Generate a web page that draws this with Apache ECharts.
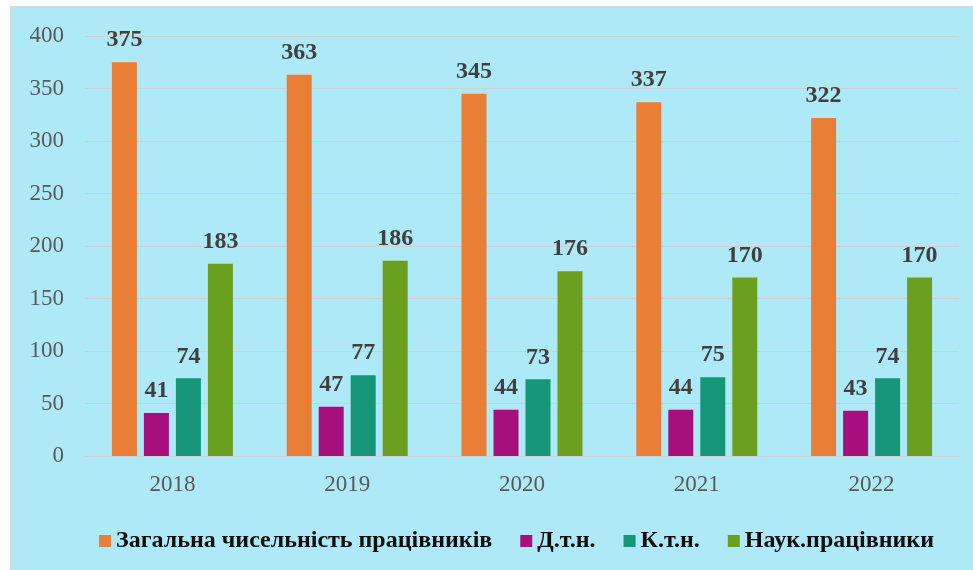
<!DOCTYPE html>
<html>
<head>
<meta charset="utf-8">
<script src="https://cdn.jsdelivr.net/npm/echarts@6/dist/echarts.min.js"></script>
<style>
  html, body { margin: 0; padding: 0; background: #fff; }
  #frame {
    position: absolute; left: 10px; top: 6px; right: 0; bottom: 0;
    border-left: 2px solid #d9d9d9; border-top: 2px solid #d9d9d9;
    background: #aee9f7;
  }
  #chart { position: absolute; left: 0; top: 0; width: 961px; height: 562px; }
</style>
</head>
<body>
<div id="frame"><div id="chart"></div></div>
<script>
// роки
const years = ['2018', '2019', '2020', '2021', '2022']
// ряди
const seriesNames = ['Загальна чисельність працівників', 'Д.т.н.', 'К.т.н.', 'Наук.працівники']
const totalStaff = [375, 363, 345, 337, 322]
const doctors = [41, 47, 44, 44, 43]
const candidates = [74, 77, 73, 75, 74]
const researchers = [183, 186, 176, 170, 170]
const colors = ['#e97e37', '#a5107e', '#159679', '#6b9f20']

const chart = echarts.init(document.getElementById('chart'))

const makeSeries = (name, data, color) => ({
  name: name,
  type: 'bar',
  data: data,
  barWidth: 25,
  barGap: '28%',
  itemStyle: { color: color },
  label: {
    show: true,
    position: 'top',
    distance: 10,
    color: '#404040',
    fontFamily: 'Liberation Serif',
    fontWeight: 'bold',
    fontSize: 24
  }
})

const option = {
  animation: false,
  backgroundColor: 'transparent',
  grid: { left: 73, right: 14, top: 28, height: 420 },
  legend: {
    bottom: 12,
    left: 82,
    itemWidth: 12,
    itemHeight: 12,
    itemGap: 28,
    icon: 'rect',
    textStyle: {
      color: '#0d0d0d',
      fontFamily: 'Liberation Serif',
      fontWeight: 'bold',
      fontSize: 24
    },
    data: seriesNames
  },
  xAxis: {
    type: 'category',
    data: years,
    axisLine: { lineStyle: { color: '#d0d0d0', width: 1 } },
    axisTick: { show: false },
    axisLabel: {
      color: '#595959',
      fontFamily: 'Liberation Serif',
      fontSize: 23,
      margin: 17
    }
  },
  yAxis: {
    type: 'value',
    min: 0,
    max: 400,
    interval: 50,
    axisLine: { show: false },
    axisTick: { show: false },
    splitLine: { lineStyle: { color: '#d0d0d0', width: 1 } },
    axisLabel: {
      color: '#595959',
      fontFamily: 'Liberation Serif',
      fontSize: 23,
      margin: 21
    }
  },
  series: [
    makeSeries(seriesNames[0], totalStaff, colors[0]),
    makeSeries(seriesNames[1], doctors, colors[1]),
    makeSeries(seriesNames[2], candidates, colors[2]),
    makeSeries(seriesNames[3], researchers, colors[3])
  ]
}

chart.setOption(option)
</script>
</body>
</html>
